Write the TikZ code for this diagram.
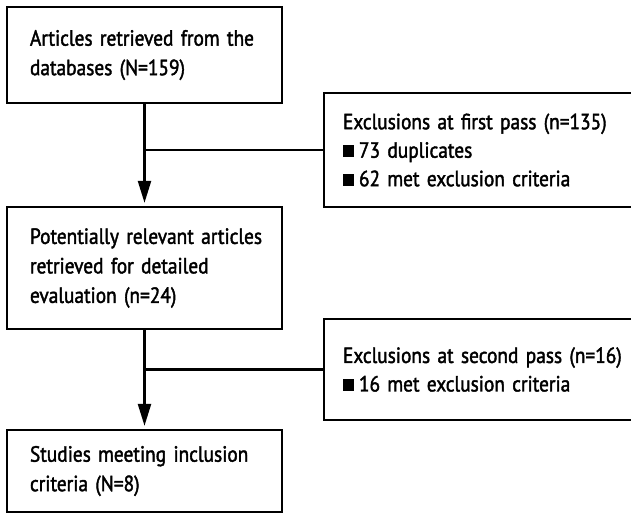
\documentclass[tikz,border=0pt]{standalone}
\usepackage{fontspec}
\setmainfont{PT Sans}[FakeStretch=0.88,FakeBold=1.8]
\usetikzlibrary{arrows.meta}
\newcommand{\sqbul}{\rule[0.5pt]{11pt}{12pt}\hspace{5pt}}
\newcommand{\tline}[1]{\mbox{#1}}
\tikzset{
  leftbox/.style={draw, line width=2.4pt, rectangle, minimum width=275pt, inner xsep=23pt, text width=229pt, align=left, font=\fontsize{22}{29.5}\selectfont},
  rightbox/.style={draw, line width=2.4pt, rectangle, minimum width=320pt, inner xsep=19pt, text width=282pt, align=left, font=\fontsize{22}{28.5}\selectfont},
  flow/.style={line width=2.4pt, -{Triangle[length=22pt,width=13pt]}, shorten >=3pt},
  link/.style={line width=2.4pt}
}
\begin{document}
\begin{tikzpicture}[x=1pt,y=1pt]
\useasboundingbox (0,0) rectangle (631,-523);
\clip (0,0) rectangle (631,-523);
\node[leftbox, minimum height=96pt] (b1) at (144.5,-55) {\tline{Articles retrieved from the}\\\tline{databases (N=159)}};
\node[leftbox, minimum height=122pt] (b2) at (144.5,-268) {\tline{Potentially relevant articles}\\\tline{retrieved for detailed}\\\tline{evaluation (n=24)}};
\node[leftbox, minimum height=82pt] (b3) at (144.5,-471) {\tline{Studies meeting inclusion}\\\tline{criteria (N=8)}};
\node[rightbox, minimum height=114pt] (e1) at (484,-150) {\tline{Exclusions at first pass (n=135)}\\\tline{\sqbul 73 duplicates}\\\tline{\sqbul 62 met exclusion criteria}};
\node[rightbox, minimum height=101pt] (e2) at (484,-369.5) {\tline{Exclusions at second pass (n=16)}\\\tline{\sqbul 16 met exclusion criteria}};
\draw[flow] (b1.south) -- (b2.north);
\draw[flow] (b2.south) -- (b3.north);
\draw[link] (e1.west) -- (e1.west -| b1.south);
\draw[link] (e2.west) -- (e2.west -| b2.south);
\end{tikzpicture}
\end{document}
